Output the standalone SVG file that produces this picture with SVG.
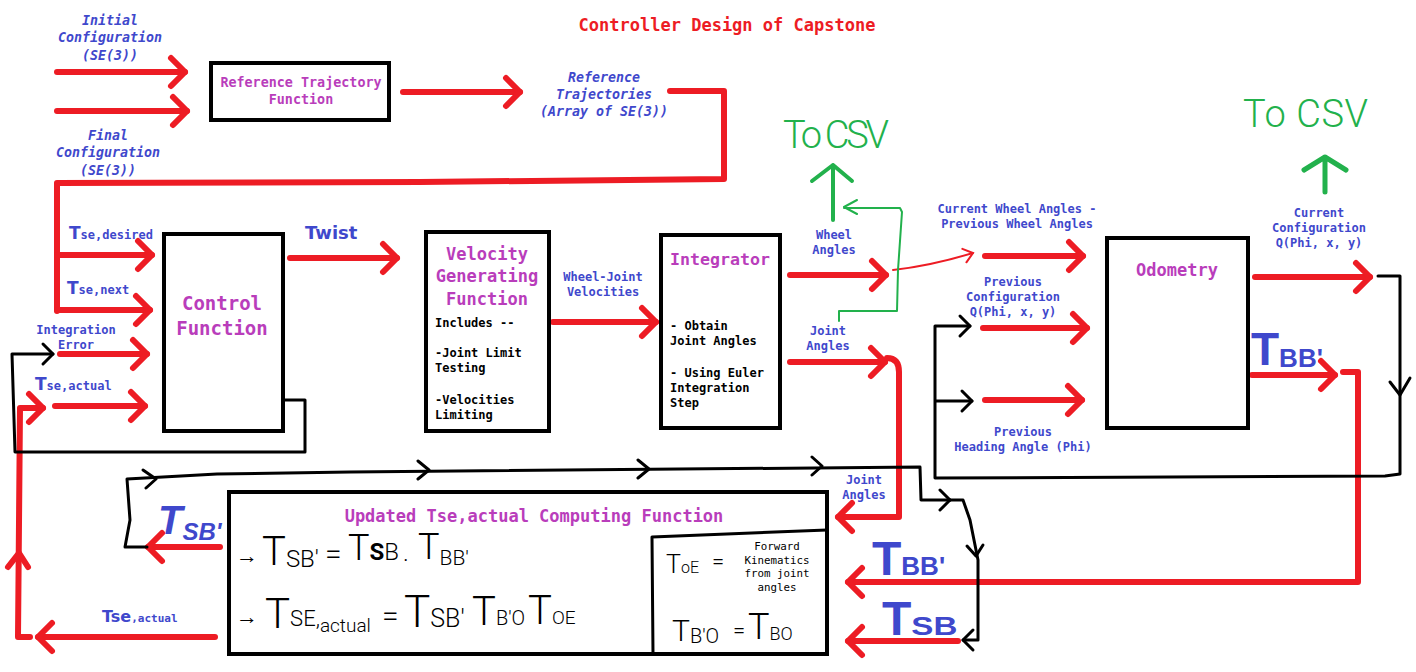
<svg xmlns="http://www.w3.org/2000/svg" width="1416" height="672" viewBox="0 0 1416 672">
<defs>
<style>
 .r{fill:none;stroke:#ed1c24;stroke-width:6;stroke-linecap:round;stroke-linejoin:round}
 .rt{fill:none;stroke:#ed1c24;stroke-width:2;stroke-linecap:round;stroke-linejoin:round}
 .k{fill:none;stroke:#000;stroke-width:3;stroke-linecap:round;stroke-linejoin:round}
 .g{fill:none;stroke:#22b14c;stroke-linecap:round;stroke-linejoin:round}
 .box{fill:#fff;stroke:#000;stroke-width:4}
 text{font-family:"DejaVu Sans Mono","Liberation Mono",monospace;font-weight:bold}
 .lb{fill:#3f48cc;font-size:12px;text-anchor:middle}
 .li{fill:#3f48cc;font-size:13.3px;font-style:italic;text-anchor:middle}
 .tt{fill:#b93dbb;text-anchor:middle}
 .bt{fill:#000;font-size:12px}
 .sm{fill:#000;font-size:10.8px;font-weight:normal;text-anchor:middle}
 .T{font-family:"DejaVu Sans",sans-serif;font-weight:bold}
 .hw{font-family:Roboto,"Liberation Sans",sans-serif;font-weight:300;fill:#000}
 .big{font-family:"Liberation Sans",Arial,sans-serif;fill:#3f48cc}
 .csv{font-family:Roboto,"Liberation Sans",sans-serif;font-weight:300;fill:#22b14c;font-size:38px}
</style>
<marker id="rh" markerUnits="userSpaceOnUse" markerWidth="40" markerHeight="40" orient="auto" overflow="visible">
 <path d="M-14,-14 L0,0 L-14,14" fill="none" stroke="#ed1c24" stroke-width="6" stroke-linecap="round" stroke-linejoin="round"/>
</marker>
<marker id="rs" markerUnits="userSpaceOnUse" markerWidth="20" markerHeight="20" orient="auto" overflow="visible">
 <path d="M-9,-7 L0,0 L-9,7" fill="none" stroke="#ed1c24" stroke-width="2" stroke-linecap="round"/>
</marker>
<marker id="kh" markerUnits="userSpaceOnUse" markerWidth="30" markerHeight="30" orient="auto" overflow="visible">
 <path d="M-10,-10 L0,0 L-10,10" fill="none" stroke="#000" stroke-width="3" stroke-linecap="round" stroke-linejoin="round"/>
</marker>
</defs>
<rect width="1416" height="672" fill="#fff"/>

<text id="title" x="727" y="31" fill="#ed1c24" font-size="17" text-anchor="middle">Controller Design of Capstone</text>

<g id="connectors">
 <!-- red data flows -->
 <path class="r" d="M57,72 H185" marker-end="url(#rh)"/>
 <path class="r" d="M57,111 H187" marker-end="url(#rh)"/>
 <path class="r" d="M403,92 H520" marker-end="url(#rh)"/>
 <path class="r" d="M670,91 H724 V179 L420,182 L57,183 V311"/>
 <path class="r" d="M57,255 H152" marker-end="url(#rh)"/>
 <path class="r" d="M57,310 H150" marker-end="url(#rh)"/>
 <path class="r" d="M60,354 H147" marker-end="url(#rh)"/>
 <path class="r" d="M55,406 H145" marker-end="url(#rh)"/>
 <path class="r" d="M290,258 H397" marker-end="url(#rh)"/>
 <path class="r" d="M553,322 H656" marker-end="url(#rh)"/>
 <path class="r" d="M790,275 H886" marker-end="url(#rh)"/>
 <path class="rt" d="M893,270 Q930,266 973,253" marker-end="url(#rs)"/>
 <path class="r" d="M985,256 H1083" marker-end="url(#rh)"/>
 <path class="r" d="M983,328 H1087" marker-end="url(#rh)"/>
 <path class="r" d="M985,400 H1082" marker-end="url(#rh)"/>
 <path class="r" d="M1255,277 H1370" marker-end="url(#rh)"/>
 <path class="r" d="M790,362 H885" marker-end="url(#rh)"/>
 <path class="r" d="M887,358 Q899,358 899,372 V517 H838" marker-end="url(#rh)"/>
 <path class="r" d="M1252,375 H1335" marker-end="url(#rh)"/>
 <path class="r" d="M1343,372 H1358 V582 H848" marker-end="url(#rh)"/>
 <path class="r" d="M958,641 H848" marker-end="url(#rh)"/>
 <path class="r" d="M220,547 H148" marker-end="url(#rh)"/>
 <path class="r" d="M215,637 H38" marker-end="url(#rh)"/>
 <path class="r" d="M30,637 H18 L20,408 H43" marker-end="url(#rh)"/>
 <path class="r" d="M8,567 L19,553 L28,567"/>

 <!-- black feedback loops -->
 <path class="k" d="M283,400 H305 V452 L15,452 L12,354 H53" marker-end="url(#kh)"/>
 <path class="k" d="M147,547 H125 L130,520 L127,479 L217,474 L350,472 L920,467 L921,500 H950" marker-end="url(#kh)"/>
 <path class="k" d="M143,470 L156,479 L146,488 M418,461 L429,470 L418,479 M638,460 L649,469 L638,478 M812,457 L822,466 L812,475"/>
 <path class="k" d="M950,500 H963 L970,520 L976,550 L978,560 V640 H963" marker-end="url(#kh)"/>
 <path class="k" d="M967,546 L976,556 L983,545"/>
 <path class="k" d="M1378,276 H1400 V474 L1385,476 L935,478 V326 H970" marker-end="url(#kh)"/>
 <path class="k" d="M936,401 H972" marker-end="url(#kh)"/>
 <path class="k" d="M1390,382 L1400,395 L1410,378"/>

 <!-- green outputs to CSV -->
 <path class="g" stroke-width="5" d="M1325,192 V157 M1304,170 L1325,157 L1346,170"/>
 <path class="g" stroke-width="4" d="M833,220 V165 M812,181 L833,165 L852,181"/>
 <path class="g" stroke-width="2" d="M839,321 V311 H897 L898,270 L902,212 L900,208 H844 M857,200 L844,207 L857,214"/>
</g>

<g id="labels">
 <text class="li" x="110"><tspan x="110" y="25">Initial</tspan><tspan x="110" y="42">Configuration</tspan><tspan x="110" y="60">(SE(3))</tspan></text>
 <text class="li" x="108"><tspan x="108" y="140">Final</tspan><tspan x="108" y="157">Configuration</tspan><tspan x="108" y="175">(SE(3))</tspan></text>
 <text class="li" x="604"><tspan x="604" y="82">Reference</tspan><tspan x="604" y="99">Trajectories</tspan><tspan x="604" y="116">(Array of SE(3))</tspan></text>

 <text fill="#3f48cc" font-size="12" x="69" y="239"><tspan class="T" font-size="17">T</tspan>se,desired</text>
 <text fill="#3f48cc" font-size="12" x="67" y="294"><tspan class="T" font-size="17">T</tspan>se,next</text>
 <text class="lb"><tspan x="76" y="334">Integration</tspan><tspan x="76" y="349">Error</tspan></text>
 <text fill="#3f48cc" font-size="12" x="35" y="390"><tspan class="T" font-size="17">T</tspan>se,actual</text>
 <text class="T" fill="#3f48cc" font-size="18" x="305" y="239">Twist</text>
 <text class="lb"><tspan x="603" y="281">Wheel-Joint</tspan><tspan x="603" y="296">Velocities</tspan></text>
 <text class="lb"><tspan x="834" y="239">Wheel</tspan><tspan x="834" y="254">Angles</tspan></text>
 <text class="lb"><tspan x="828" y="335">Joint</tspan><tspan x="828" y="350">Angles</tspan></text>
 <text class="lb"><tspan x="1017" y="213">Current Wheel Angles -</tspan><tspan x="1017" y="228">Previous Wheel Angles</tspan></text>
 <text class="lb"><tspan x="1013" y="286">Previous</tspan><tspan x="1013" y="301">Configuration</tspan><tspan x="1013" y="316">Q(Phi, x, y)</tspan></text>
 <text class="lb"><tspan x="1023" y="436">Previous</tspan><tspan x="1023" y="451">Heading Angle (Phi)</tspan></text>
 <text class="lb"><tspan x="1319" y="217">Current</tspan><tspan x="1319" y="232">Configuration</tspan><tspan x="1319" y="247">Q(Phi, x, y)</tspan></text>
 <text class="lb"><tspan x="864" y="484">Joint</tspan><tspan x="864" y="499">Angles</tspan></text>
 <text fill="#3f48cc" font-size="11" x="102" y="622"><tspan class="T" font-size="16">Tse</tspan>,actual</text>

 <text class="csv" x="1243" y="127" textLength="125">To CSV</text>
 <text class="csv" x="783" y="148" textLength="106">To CSV</text>

 <text class="big" x="1251" y="365"><tspan font-size="46">T</tspan><tspan dy="2" font-size="26">BB'</tspan></text>
 <text class="big" font-weight="bold" x="872" y="575"><tspan font-size="48">T</tspan><tspan font-size="26">BB'</tspan></text>
 <text class="big" font-weight="bold" x="882" y="635"><tspan font-size="48">T</tspan><tspan font-size="26" textLength="46" lengthAdjust="spacingAndGlyphs">SB</tspan></text>
 <text class="big" font-weight="bold" font-style="italic" x="158" y="534"><tspan font-size="40">T</tspan><tspan dy="6" font-size="24">SB'</tspan></text>
</g>

<g id="ref-traj-fn">
 <rect class="box" x="211" y="63" width="178" height="57"/>
 <text class="tt" font-size="13.4"><tspan x="301" y="87">Reference Trajectory</tspan><tspan x="301" y="104">Function</tspan></text>
</g>

<g id="control-fn">
 <rect class="box" x="164" y="234" width="119" height="197"/>
 <text class="tt" font-size="19"><tspan x="222" y="310">Control</tspan><tspan x="222" y="335">Function</tspan></text>
</g>

<g id="velocity-fn">
 <rect class="box" x="426" y="232" width="123" height="199"/>
 <text class="tt" font-size="17"><tspan x="487" y="260">Velocity</tspan><tspan x="487" y="282">Generating</tspan><tspan x="487" y="305">Function</tspan></text>
 <text class="bt"><tspan x="435" y="327">Includes --</tspan><tspan x="435" y="357">-Joint Limit</tspan><tspan x="435" y="372">Testing</tspan><tspan x="435" y="404">-Velocities</tspan><tspan x="435" y="419">Limiting</tspan></text>
</g>

<g id="integrator">
 <rect class="box" x="661" y="235" width="119" height="193"/>
 <text class="tt" font-size="16.6"><tspan x="720" y="265">Integrator</tspan></text>
 <text class="bt"><tspan x="670" y="330">- Obtain</tspan><tspan x="670" y="345">Joint Angles</tspan><tspan x="670" y="377">- Using Euler</tspan><tspan x="670" y="392">Integration</tspan><tspan x="670" y="407">Step</tspan></text>
</g>

<g id="odometry">
 <rect class="box" x="1107" y="238" width="141" height="190"/>
 <text class="tt" font-size="17"><tspan x="1177" y="276">Odometry</tspan></text>
</g>

<g id="update-fn">
 <rect class="box" x="229" y="492" width="598" height="162"/>
 <text class="tt" font-size="17"><tspan x="534" y="522">Updated Tse,actual Computing Function</tspan></text>
 <path class="k" stroke-width="3" d="M653,654 L652,537 L827,530"/>
 <!-- T_SB' = T_SB . T_BB' -->
 <text class="hw" x="236" y="563" font-size="22">→</text>
 <text class="hw" x="262" y="565"><tspan font-size="40">T</tspan><tspan dy="2" font-size="24">SB'</tspan></text>
 <text class="hw" x="325" y="564" font-size="30">=</text>
 <text class="hw" x="348" y="560"><tspan font-size="36">T</tspan><tspan font-size="24" font-weight="bold">S</tspan><tspan font-size="24">B</tspan></text>
 <text class="hw" x="403" y="561" font-size="24">.</text>
 <text class="hw" x="418" y="559"><tspan font-size="36">T</tspan><tspan dy="6" font-size="21">BB'</tspan></text>
 <!-- T_SE,actual = T_SB' T_B'O T_OE -->
 <text class="hw" x="236" y="624" font-size="22">→</text>
 <text class="hw" x="265" y="628"><tspan font-size="42">T</tspan><tspan dy="-2" font-size="22">SE,</tspan><tspan dy="6" font-size="19">actual</tspan></text>
 <text class="hw" x="382" y="626" font-size="30">=</text>
 <text class="hw" x="404" y="627"><tspan font-size="44">T</tspan><tspan font-size="25">SB'</tspan></text>
 <text class="hw" x="472" y="625"><tspan font-size="40">T</tspan><tspan font-size="20">B'O</tspan></text>
 <text class="hw" x="528" y="624"><tspan font-size="40">T</tspan><tspan font-size="19">OE</tspan></text>
 <!-- inner panel -->
 <text class="hw" x="666" y="573"><tspan font-size="25">T</tspan><tspan font-size="16">oE</tspan></text>
 <text class="hw" x="712" y="569" font-size="22">=</text>
 <text class="sm"><tspan x="777" y="550">Forward</tspan><tspan x="777" y="564">Kinematics</tspan><tspan x="777" y="577">from joint</tspan><tspan x="777" y="591">angles</tspan></text>
 <text class="hw" x="672" y="641"><tspan font-size="30">T</tspan><tspan dy="2" font-size="20">B'O</tspan></text>
 <text class="hw" x="733" y="638" font-size="22">=</text>
 <text class="hw" x="748" y="639"><tspan font-size="36">T</tspan><tspan dy="1" font-size="18">BO</tspan></text>
</g>
</svg>
